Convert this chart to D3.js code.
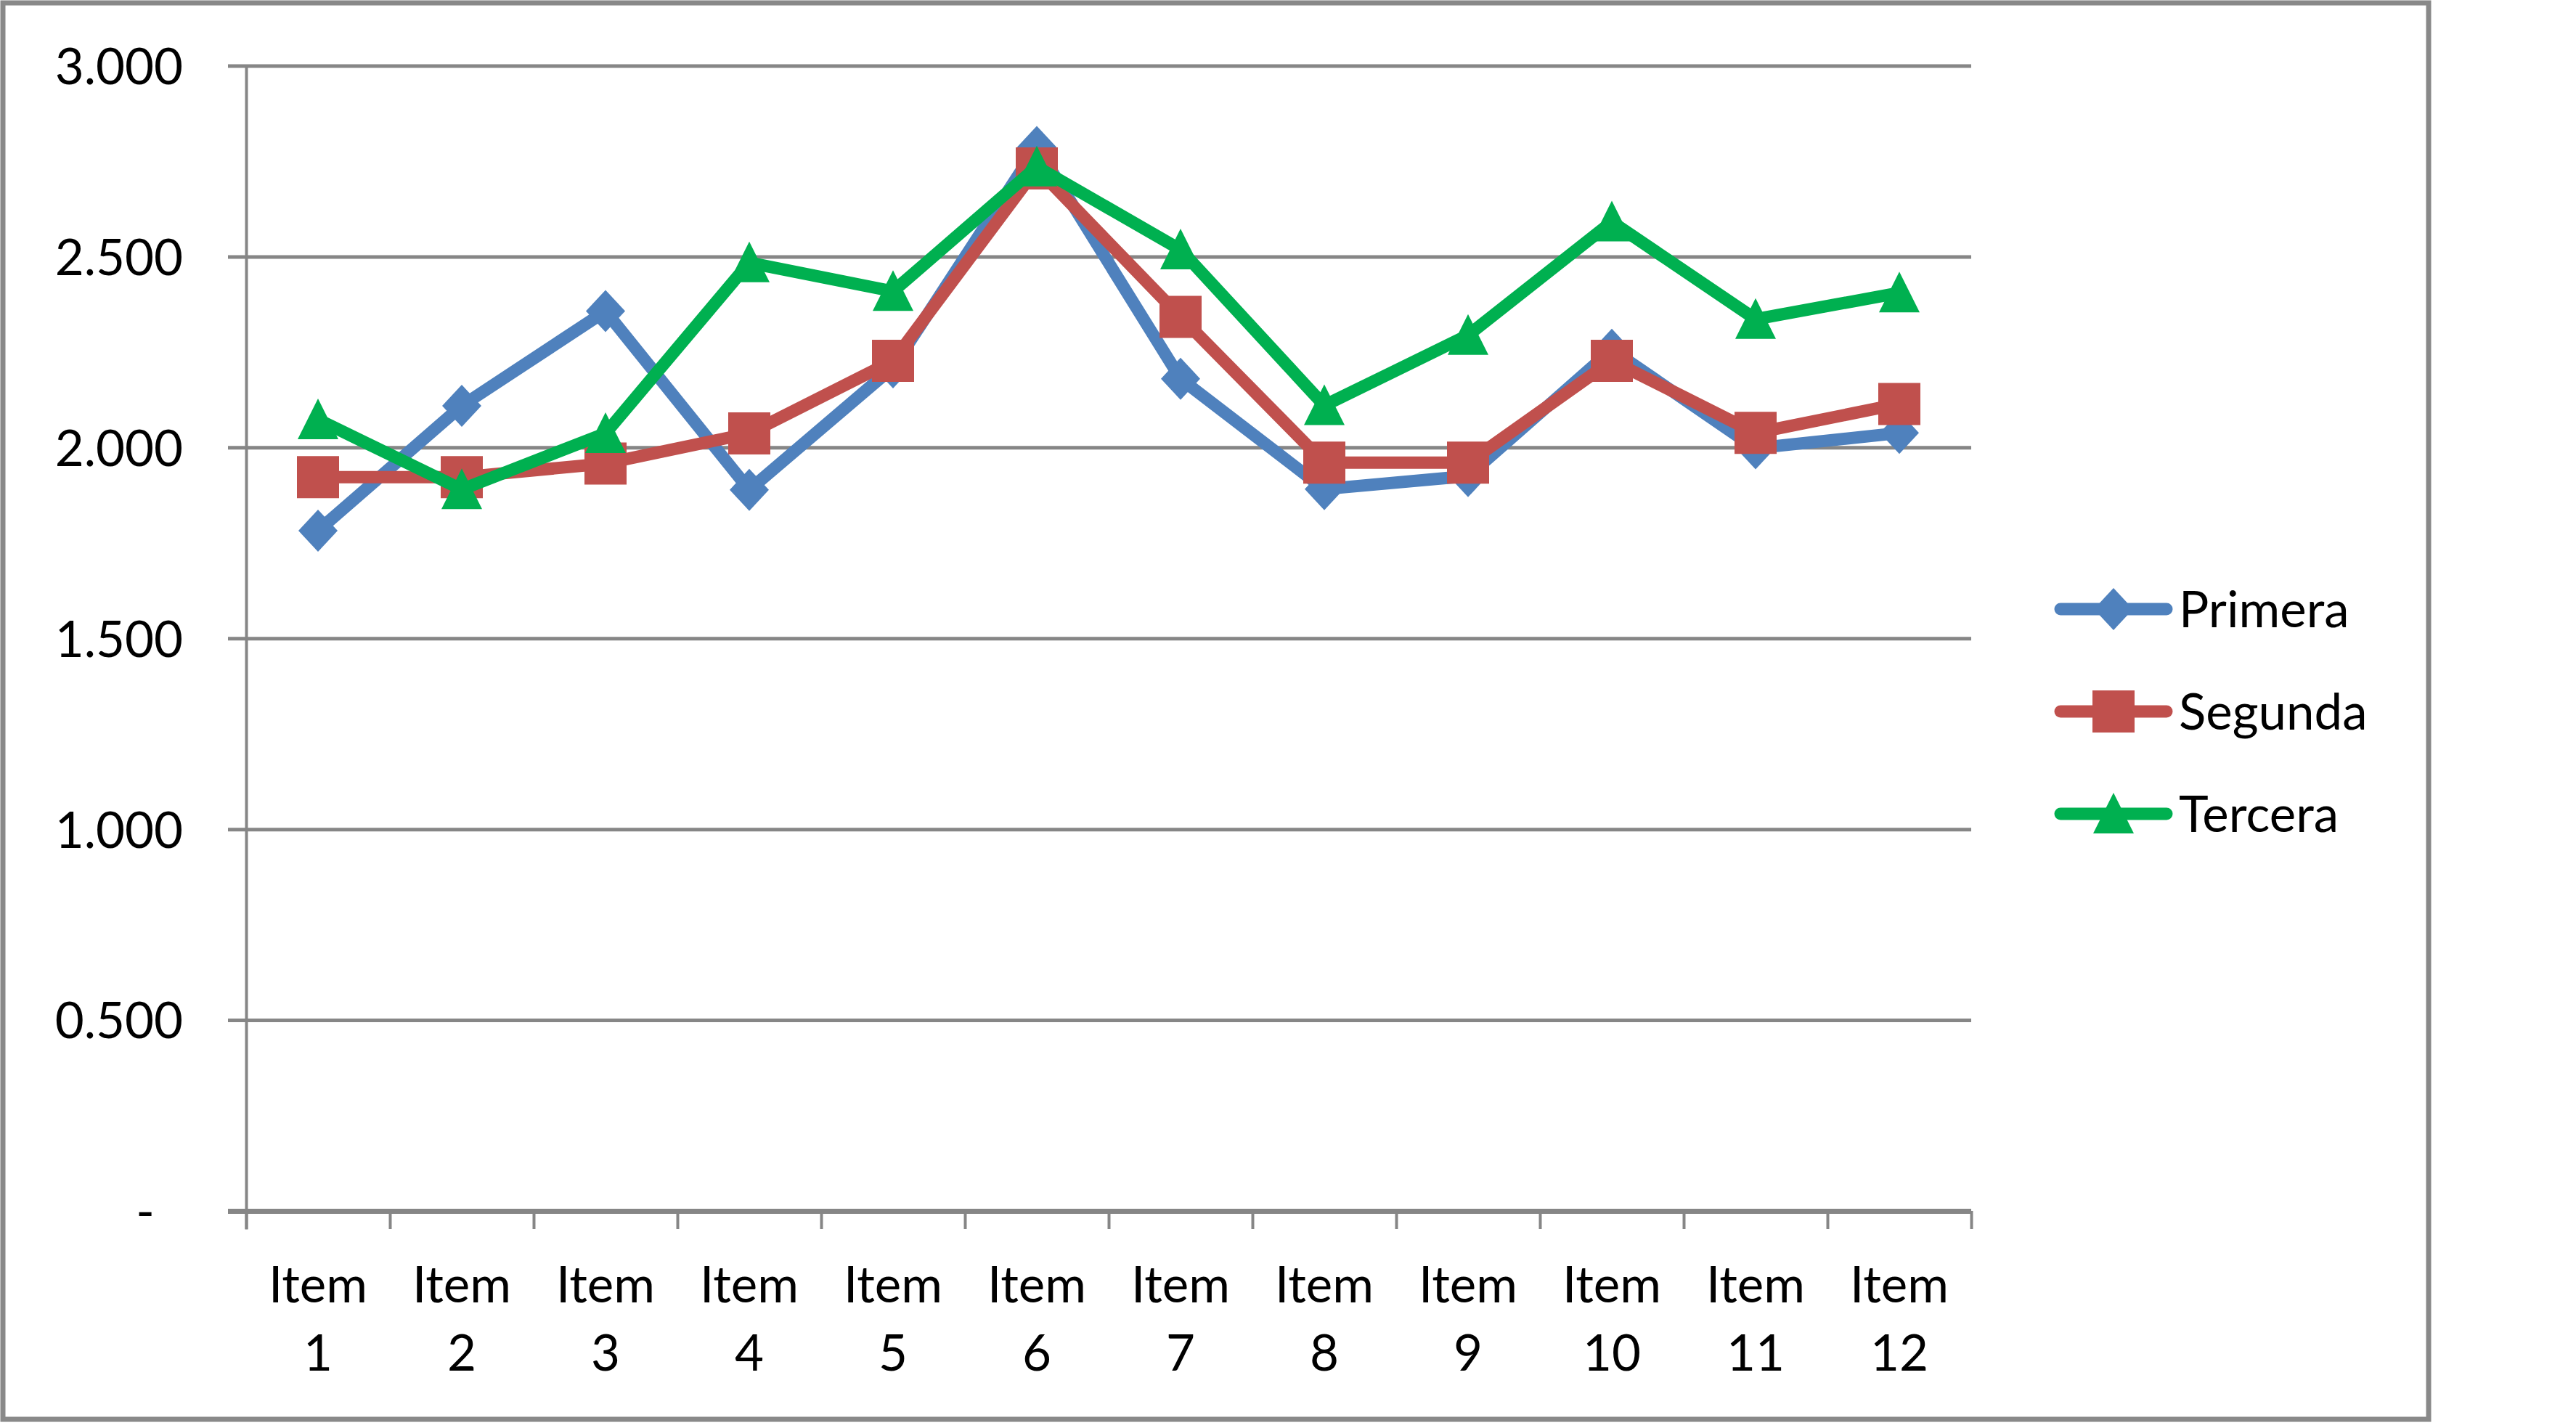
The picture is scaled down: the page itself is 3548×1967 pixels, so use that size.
<!DOCTYPE html>
<html>
<head>
<meta charset="utf-8">
<script src="https://cdn.jsdelivr.net/npm/d3@7"></script>
<style>
  html, body { margin: 0; padding: 0; background: #ffffff; }
  svg { display: block; }
  text { font-family: Lato, "Open Sans", sans-serif; fill: #000; }
</style>
</head>
<body>
<svg id="chart" width="3548" height="1967"></svg>
<script>
// ---------------- DATA ----------------
const categories = ["Item 1","Item 2","Item 3","Item 4","Item 5","Item 6","Item 7","Item 8","Item 9","Item 10","Item 11","Item 12"];
const seriesNames = ["Primera", "Segunda", "Tercera"];
const primera = [1.782, 2.109, 2.357, 1.889, 2.210, 2.787, 2.180, 1.891, 1.925, 2.256, 1.998, 2.038];
const segunda = [1.922, 1.922, 1.958, 2.037, 2.227, 2.731, 2.342, 1.960, 1.960, 2.227, 2.038, 2.114];
const tercera = [2.073, 1.890, 2.037, 2.484, 2.409, 2.735, 2.518, 2.110, 2.294, 2.591, 2.336, 2.405];
const yTicks = [0, 0.5, 1.0, 1.5, 2.0, 2.5, 3.0];
const yTickLabels = ["-", "0.500", "1.000", "1.500", "2.000", "2.500", "3.000"];

// ---------------- LAYOUT ----------------
const W = 3548, H = 1967;
const plot = { left: 339, right: 2715, top: 90.5, bottom: 1668 };
const colors = ["#4F81BD", "#C0504D", "#00B050"];
const markerTypes = ["diamond", "square", "triangle"];
const fontSize = 69;

const svg = d3.select("#chart");
svg.append("rect").attr("x", 0).attr("y", 0).attr("width", W).attr("height", H).attr("fill", "#fff");
// outer chart border
svg.append("rect").attr("x", 4).attr("y", 4).attr("width", 3341).attr("height", 1951)
  .attr("fill", "#fff").attr("stroke", "#898989").attr("stroke-width", 7);

const x = d3.scaleBand().domain(categories).range([plot.left, plot.right]).padding(0);
const xEdge = d3.scaleLinear().domain([0, categories.length]).range([plot.left, plot.right]);
const y = d3.scaleLinear().domain([0, 3]).range([plot.bottom, plot.top]);

// gridlines (including zero line used as x axis)
const grid = svg.append("g").attr("transform", `translate(${plot.left - 25},0)`)
  .call(d3.axisRight(y).tickValues(yTicks).tickSize(plot.right - plot.left + 25).tickFormat(""));
grid.select(".domain").remove();
grid.selectAll(".tick line").attr("stroke", "#868686")
  .attr("stroke-width", d => d === 0 ? 7 : 5);

// y axis vertical line
svg.append("g").attr("transform", `translate(${plot.left},0)`)
  .call(d3.axisLeft(d3.scaleLinear().domain([0, 1]).range([plot.bottom + 25, plot.top])).tickValues([]).tickSizeOuter(0))
  .select(".domain").attr("stroke", "#868686").attr("stroke-width", 4);

// y labels
const yLab = svg.append("g").attr("transform", `translate(${plot.left},0)`)
  .call(d3.axisLeft(y).tickValues(yTicks).tickSize(0).tickPadding(87)
    .tickFormat((d, i) => yTickLabels[i]));
yLab.select(".domain").remove();
yLab.selectAll(".tick text")
  .attr("font-size", fontSize).attr("font-family", "Lato, sans-serif").attr("fill", "#000")
  .attr("dy", "0.36em")
  .attr("dx", d => d === 0 ? -39 : 0);

// x tick marks at category boundaries
const xt = svg.append("g").attr("transform", `translate(0,${plot.bottom})`)
  .call(d3.axisBottom(xEdge).tickValues(d3.range(0, categories.length + 1)).tickSize(25).tickFormat(""));
xt.select(".domain").remove();
xt.selectAll(".tick line").attr("stroke", "#868686").attr("stroke-width", 4);

// x labels (wrapped on two lines)
const xl = svg.append("g");
categories.forEach(c => {
  const parts = c.split(" ");
  const t = xl.append("text").attr("text-anchor", "middle").attr("font-size", fontSize)
    .attr("x", x(c) + x.bandwidth() / 2);
  t.append("tspan").attr("x", x(c) + x.bandwidth() / 2).attr("y", 1794).text(parts[0]);
  t.append("tspan").attr("x", x(c) + x.bandwidth() / 2).attr("y", 1888).text(parts[1]);
});

// marker shapes
function markerPath(type) {
  if (type === "diamond") return "M0,-29 L27,0 L0,29 L-27,0 Z";
  if (type === "square") return "M-29,-29 L29,-29 L29,29 L-29,29 Z";
  return "M0,-29 L28,27 L-28,27 Z";
}

const allSeries = [primera, segunda, tercera];
const line = d3.line().x((d, i) => x(categories[i]) + x.bandwidth() / 2).y(d => y(d));

allSeries.forEach((vals, s) => {
  const g = svg.append("g");
  g.append("path").datum(vals).attr("d", line)
    .attr("fill", "none").attr("stroke", colors[s]).attr("stroke-width", 17)
    .attr("stroke-linejoin", "round").attr("stroke-linecap", "round");
  g.selectAll("path.m").data(vals).enter().append("path").attr("class", "m")
    .attr("d", markerPath(markerTypes[s]))
    .attr("transform", (d, i) => `translate(${x(categories[i]) + x.bandwidth() / 2},${y(d)})`)
    .attr("fill", colors[s]);
});

// legend
const legendRows = [839, 980, 1121];
seriesNames.forEach((name, s) => {
  const g = svg.append("g").attr("transform", `translate(0,${legendRows[s]})`);
  g.append("line").attr("x1", 2838).attr("x2", 2984).attr("y1", 0).attr("y2", 0)
    .attr("stroke", colors[s]).attr("stroke-width", 17).attr("stroke-linecap", "round");
  g.append("path").attr("d", markerPath(markerTypes[s]))
    .attr("transform", `translate(2911,0)`).attr("fill", colors[s]);
  g.append("text").attr("x", 3001).attr("y", 25).attr("font-size", fontSize).text(name);
});
</script>
</body>
</html>
